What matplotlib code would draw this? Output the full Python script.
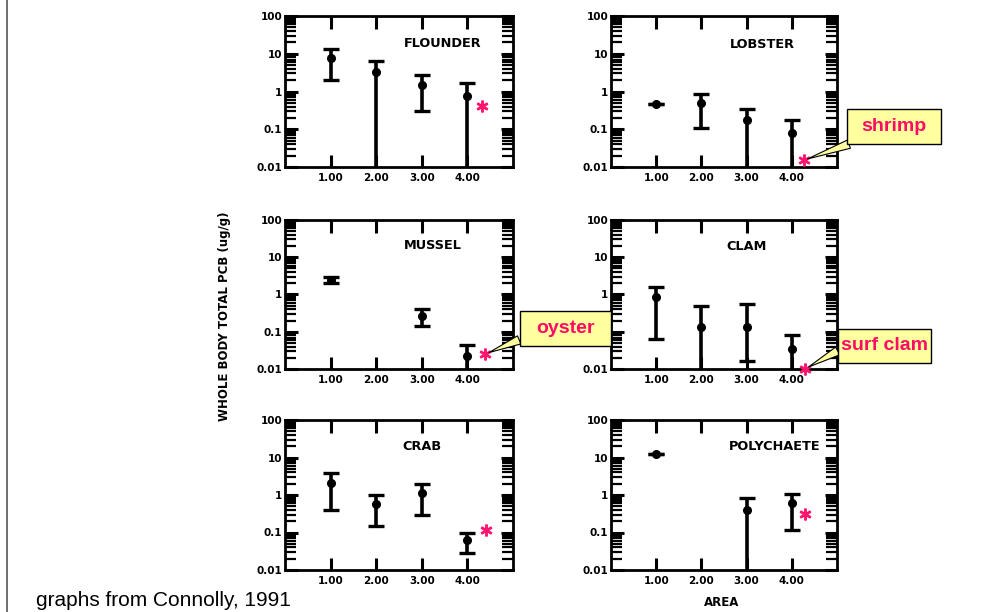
import matplotlib
matplotlib.use("Agg")
import matplotlib.pyplot as plt
from matplotlib.lines import Line2D
from matplotlib.ticker import FixedLocator, LogLocator, NullFormatter, FixedFormatter

# ---------------- data ----------------
areas = [1, 2, 3, 4]
x_tick_labels = ["1.00", "2.00", "3.00", "4.00"]
y_ticks = [0.01, 0.1, 1, 10, 100]
y_tick_labels = ["0.01", "0.1", "1", "10", "100"]

flounder_x = [1, 2, 3, 4]
flounder_mean = [7.6, 3.3, 1.5, 0.78]
flounder_hi = [13, 6.6, 2.7, 1.65]
flounder_lo = [2.0, 0.001, 0.31, 0.001]

lobster_x = [1, 2, 3, 4]
lobster_mean = [0.47, 0.5, 0.176, 0.078]
lobster_hi = [0.47, 0.86, 0.35, 0.176]
lobster_lo = [0.47, 0.11, 0.001, 0.001]

mussel_x = [1, 3, 4]
mussel_mean = [2.5, 0.27, 0.022]
mussel_hi = [3.0, 0.41, 0.045]
mussel_lo = [2.0, 0.145, 0.001]

clam_x = [1, 2, 3, 4]
clam_mean = [0.87, 0.135, 0.135, 0.034]
clam_hi = [1.6, 0.48, 0.54, 0.081]
clam_lo = [0.063, 0.001, 0.016, 0.001]

crab_x = [1, 2, 3, 4]
crab_mean = [2.1, 0.58, 1.1, 0.063]
crab_hi = [3.9, 1.0, 1.95, 0.1]
crab_lo = [0.4, 0.15, 0.29, 0.028]

poly_x = [1, 3, 4]
poly_mean = [12.4, 0.4, 0.6]
poly_hi = [12.4, 0.81, 1.07]
poly_lo = [12.4, 0.001, 0.12]

species = ["FLOUNDER", "LOBSTER", "MUSSEL", "CLAM", "CRAB", "POLYCHAETE"]
# substitute-species markers (*)
star_x = [4.32, 4.26, 4.39, 4.29, 4.40, 4.30]
star_y = [0.42, 0.015, 0.025, 0.010, 0.12, 0.32]

# ---------------- layout ----------------
W, H = 1003, 612
fig = plt.figure(figsize=(W / 100, H / 100), dpi=100)
fig.patch.set_facecolor("white")

cols = [(285, 228), (611, 226)]
rows = [(16, 167), (220, 369), (420, 570)]

series = [
    (flounder_x, flounder_mean, flounder_hi, flounder_lo),
    (lobster_x, lobster_mean, lobster_hi, lobster_lo),
    (mussel_x, mussel_mean, mussel_hi, mussel_lo),
    (clam_x, clam_mean, clam_hi, clam_lo),
    (crab_x, crab_mean, crab_hi, crab_lo),
    (poly_x, poly_mean, poly_hi, poly_lo),
]
title_pos = [(0.69, 0.82), (0.67, 0.81), (0.65, 0.83), (0.60, 0.82), (0.60, 0.82), (0.725, 0.82)]

axes = []
for i, (xs, m, hi, lo) in enumerate(series):
    r, c = divmod(i, 2)
    left, width = cols[c]
    top, bot = rows[r]
    ax = fig.add_axes([left / W, 1 - bot / H, width / W, (bot - top) / H])
    axes.append(ax)
    ax.set_yscale("log")
    ax.set_xlim(0, 5)
    ax.set_ylim(0.01, 100)
    yerr = [[mm - l for mm, l in zip(m, lo)], [h - mm for mm, h in zip(m, hi)]]
    ax.errorbar(xs, m, yerr=yerr, fmt="o", color="black", ms=5.5, lw=2.6,
                capsize=6, capthick=2.4, elinewidth=2.6)
    ax.plot([star_x[i]], [star_y[i]], marker=r"$\ast$", color="#FF1470",
            ms=8, ls="none", clip_on=False, zorder=5)
    ax.text(title_pos[i][0], title_pos[i][1], species[i], transform=ax.transAxes,
            ha="center", va="center", fontsize=9.3, fontweight="bold")

    ax.xaxis.set_major_locator(FixedLocator(areas))
    ax.xaxis.set_major_formatter(FixedFormatter(x_tick_labels))
    ax.yaxis.set_major_locator(FixedLocator(y_ticks))
    ax.yaxis.set_major_formatter(FixedFormatter(y_tick_labels))
    ax.yaxis.set_minor_locator(LogLocator(base=10, subs=range(2, 10)))
    ax.yaxis.set_minor_formatter(NullFormatter())
    ax.tick_params(axis="both", which="major", direction="in", top=True, right=True,
                   length=9, width=2.2, labelsize=7.5, pad=4)
    ax.tick_params(axis="y", which="major", pad=2)
    ax.tick_params(axis="y", which="minor", direction="in", left=True, right=True,
                   length=8, width=1.6)
    ax.tick_params(axis="x", which="minor", bottom=False, top=False)
    for lab in ax.get_xticklabels() + ax.get_yticklabels():
        lab.set_fontweight("bold")
    for sp in ax.spines.values():
        sp.set_linewidth(2)

# ---------------- callouts ----------------
callout_fc = "#FFFFA0"
callout_tc = "#FF0A64"
# (panel, text, box centre in axes fraction, wedge origin, pad, vertical aspect)
callouts = [
    (1, "shrimp", (1.252, 0.268), (0.2, 0.0), 0.75, 0.59),
    (2, "oyster", (1.23, 0.272), (0.0, 0.25), 0.85, 0.52),
    (3, "surf clam", (1.211, 0.157), (0.0, 0.3), 0.155, 2.83),
]
for idx, label, pos, rel, pad, asp in callouts:
    ax = axes[idx]
    ax.annotate(label, xy=(star_x[idx], star_y[idx]), xycoords="data",
                xytext=pos, textcoords="axes fraction", ha="center", va="center",
                fontsize=14, fontweight="bold", color=callout_tc,
                family=["Liberation Sans", "DejaVu Sans"],
                bbox=dict(boxstyle=f"square,pad={pad}", fc=callout_fc, ec="black",
                          lw=1, mutation_aspect=asp),
                arrowprops=dict(arrowstyle="wedge,tail_width=0.45,shrink_factor=0.5",
                                fc=callout_fc, ec="black", lw=0.8, relpos=rel,
                                shrinkA=0, shrinkB=3),
                annotation_clip=False, zorder=10)
axes[2].set_zorder(3)

# ---------------- figure texts ----------------
fig.text(225 / W, 1 - 316 / H, "WHOLE BODY TOTAL PCB (ug/g)", rotation=90,
         ha="center", va="center", fontsize=8.5, fontweight="bold")
fig.text(722 / W, 1 - 603 / H, "AREA", ha="center", va="center",
         fontsize=8.5, fontweight="bold")
fig.text(36 / W, 1 - 606 / H, "graphs from Connolly, 1991", ha="left",
         va="baseline", fontsize=15, family="Liberation Sans")
fig.add_artist(Line2D([7 / W, 7 / W], [0, 1], color="#555555", lw=1.2,
                      transform=fig.transFigure))

fig.savefig("out.png", dpi=100)
